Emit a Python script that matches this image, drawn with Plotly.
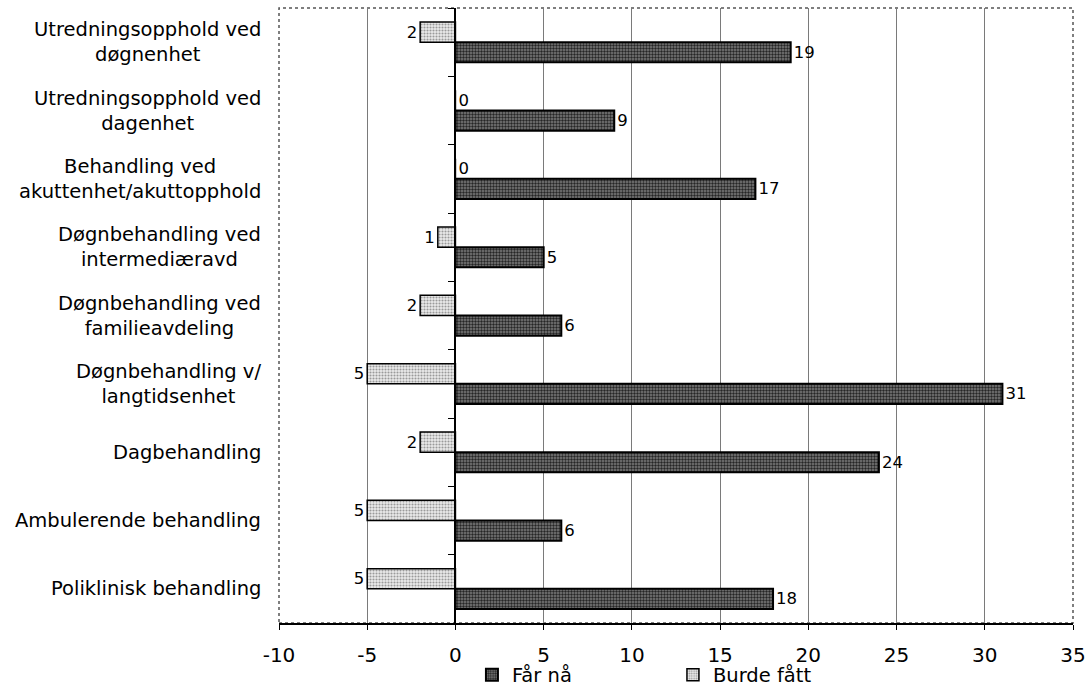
import plotly.graph_objects as go

categories = [
    "Utredningsopphold ved<br>døgnenhet",
    "Utredningsopphold ved<br>dagenhet",
    "Behandling ved<br>akuttenhet/akuttopphold",
    "Døgnbehandling ved<br>intermediæravd",
    "Døgnbehandling ved<br>familieavdeling",
    "Døgnbehandling v/<br>langtidsenhet",
    "Dagbehandling",
    "Ambulerende behandling",
    "Poliklinisk behandling",
]
far_na = [19, 9, 17, 5, 6, 31, 24, 6, 18]
burde_fatt = [-2, 0, 0, -1, -2, -5, -2, -5, -5]
x_ticks = [-10, -5, 0, 5, 10, 15, 20, 25, 30, 35]

FONT = "DejaVu Sans, Verdana, sans-serif"
x_min, x_max = x_ticks[0], x_ticks[-1]

fig = go.Figure()

fig.add_trace(go.Bar(
    name="Burde fått",
    y=categories,
    x=burde_fatt,
    orientation="h",
    text=[str(abs(v)) for v in burde_fatt],
    textposition="outside",
    constraintext="none",
    cliponaxis=False,
    textfont=dict(family=FONT, size=16.5, color="black"),
    marker=dict(
        color="#dedede",
        line=dict(color="black", width=1.5),
        pattern=dict(shape=".", bgcolor="#ebebeb", fgcolor="#9a9a9a",
                     size=3, solidity=0.4, fillmode="replace"),
    ),
    legendrank=2,
))

fig.add_trace(go.Bar(
    name="Får nå",
    y=categories,
    x=far_na,
    orientation="h",
    text=[str(v) for v in far_na],
    textposition="outside",
    constraintext="none",
    cliponaxis=False,
    textfont=dict(family=FONT, size=16.5, color="black"),
    marker=dict(
        color="#5e5e5e",
        line=dict(color="black", width=2),
        pattern=dict(shape=".", bgcolor="#7c7c7c", fgcolor="#262626",
                     size=3, solidity=0.5, fillmode="replace"),
    ),
    legendrank=1,
))

# Category labels, centred per line, to the left of the plot area
for cat in categories:
    fig.add_annotation(
        x=0, xref="paper", y=cat, yref="y",
        text=cat, showarrow=False,
        xanchor="right", xshift=-16, align="center",
        font=dict(family=FONT, size=19.5, color="black"),
    )

# Dotted frame around the plot area
fig.add_shape(type="rect", xref="paper", yref="paper", x0=0, x1=1, y0=0, y1=1,
              line=dict(color="#555555", width=1.5, dash="dot"), layer="below")

fig.update_layout(
    width=1092, height=690,
    margin=dict(l=279, r=19, t=8, b=67, autoexpand=False),
    paper_bgcolor="white", plot_bgcolor="white",
    barmode="group", bargap=0.41, bargroupgap=0,
    font=dict(family=FONT, size=20, color="black"),
    showlegend=True,
    legend=dict(orientation="h", x=0.243, xanchor="left", y=-0.053, yanchor="top",
                font=dict(family=FONT, size=19.5, color="black"),
                entrywidth=156, entrywidthmode="pixels",
                itemwidth=30, bgcolor="rgba(0,0,0,0)"),
    xaxis=dict(
        range=[x_min, x_max], tickvals=x_ticks, ticktext=[str(t) for t in x_ticks],
        showgrid=True, gridcolor="#7a7a7a", gridwidth=1,
        zeroline=False, showline=True, linecolor="black", linewidth=1.5,
        ticks="outside", ticklen=5, tickcolor="black", ticklabelstandoff=8,
        tickfont=dict(family=FONT, size=20, color="black"),
        automargin=False,
    ),
    yaxis=dict(
        type="category", autorange="reversed",
        anchor="free", position=(0 - x_min) / (x_max - x_min),
        showgrid=False, zeroline=False,
        showline=True, linecolor="black", linewidth=1.5,
        ticks="outside", tickson="boundaries", ticklen=7, tickcolor="black",
        showticklabels=False, automargin=False,
    ),
)

fig.write_html("out.html")
